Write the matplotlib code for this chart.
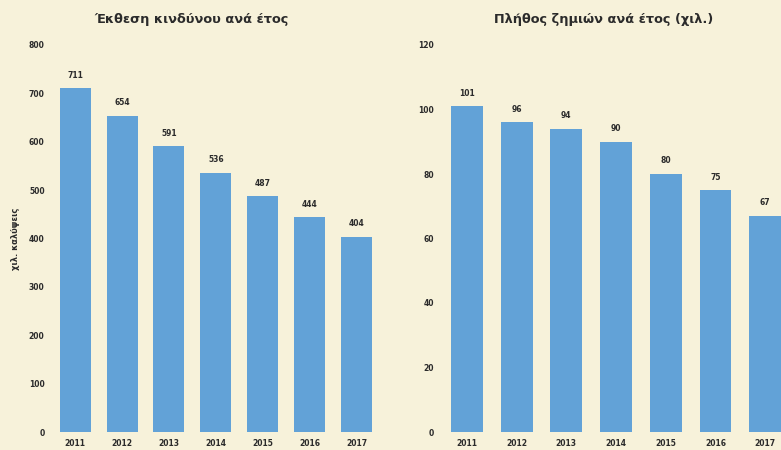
import matplotlib.pyplot as plt
import numpy as np

years = ['2011', '2012', '2013', '2014', '2015', '2016', '2017']
exposure = [711, 654, 591, 536, 487, 444, 404]
claims = [101, 96, 94, 90, 80, 75, 67]

bg = '#f7f2da'
bar_color = '#62a2d7'
text_color = '#2b2b2b'

plt.rcParams['font.family'] = ['DejaVu Sans']

fig = plt.figure(figsize=(7.81, 4.5), dpi=100, facecolor=bg)

ax1 = fig.add_axes([0.066, 0.04, 0.421, 0.86])
ax2 = fig.add_axes([0.566, 0.04, 0.4456, 0.86])


def draw_panel(ax, values, ymax, step, width):
    ax.set_facecolor(bg)
    x = np.arange(len(values))
    ax.bar(x, values, width=width, color=bar_color, zorder=2)
    for xi, v in zip(x, values):
        ax.text(xi, v + ymax * 0.022, str(v), ha='center', va='bottom',
                fontsize=5.5, fontweight='bold', color=text_color)
    ax.set_xlim(-0.5, len(values) - 0.5)
    ax.set_ylim(0, ymax)
    ax.set_yticks(np.arange(0, ymax + 1, step))
    ax.set_xticks(x)
    ax.set_xticklabels(years)
    ax.tick_params(axis='both', length=0, labelsize=5.5, colors=text_color, pad=5)
    for lab in ax.get_xticklabels() + ax.get_yticklabels():
        lab.set_fontweight('bold')
    for s in ax.spines.values():
        s.set_visible(False)
    ax.axhline(0, color='#9a9a9a', lw=0.6, ls=':', zorder=1)


draw_panel(ax1, exposure, 800, 100, 0.66)
draw_panel(ax2, claims, 120, 20, 0.64)
ax1.set_ylabel('χιλ. καλύψεις', fontsize=6, fontweight='bold', color=text_color, labelpad=6)
ax2.tick_params(axis='y', pad=6)

fig.text(192 / 781, 1 - 20 / 450, 'Έκθεση κινδύνου ανά έτος', ha='center', va='center',
         fontsize=9.3, fontweight='bold', color=text_color)
fig.text(604 / 781, 1 - 20 / 450, 'Πλήθος ζημιών ανά έτος (χιλ.)', ha='center', va='center',
         fontsize=9.3, fontweight='bold', color=text_color)

fig.savefig('out.png', dpi=100, facecolor=bg)
